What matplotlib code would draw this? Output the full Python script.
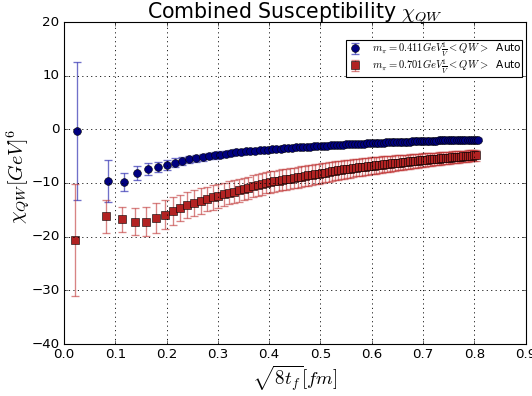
import matplotlib
matplotlib.use("Agg")
import matplotlib.pyplot as plt
from matplotlib.transforms import ScaledTranslation

# flow time axis sqrt(8 t_f) in fm
x_vals = [0.0257, 0.0851, 0.1176, 0.1428, 0.1643, 0.1832, 0.2003, 0.2161, 0.2309, 0.2447,
          0.2578, 0.2703, 0.2822, 0.2936, 0.3046, 0.3152, 0.3255, 0.3354, 0.3451, 0.3545,
          0.3637, 0.3726, 0.3813, 0.3899, 0.3982, 0.4064, 0.4144, 0.4223, 0.4300, 0.4376,
          0.4450, 0.4524, 0.4596, 0.4667, 0.4737, 0.4806, 0.4874, 0.4941, 0.5007, 0.5072,
          0.5137, 0.5200, 0.5263, 0.5325, 0.5387, 0.5448, 0.5508, 0.5567, 0.5626, 0.5684,
          0.5742, 0.5799, 0.5855, 0.5911, 0.5966, 0.6021, 0.6076, 0.6130, 0.6183, 0.6236,
          0.6289, 0.6341, 0.6392, 0.6444, 0.6494, 0.6545, 0.6595, 0.6645, 0.6694, 0.6743,
          0.6792, 0.6840, 0.6888, 0.6935, 0.6983, 0.7030, 0.7076, 0.7123, 0.7169, 0.7214,
          0.7260, 0.7305, 0.7350, 0.7395, 0.7439, 0.7483, 0.7527, 0.7570, 0.7614, 0.7657,
          0.7700, 0.7742, 0.7785, 0.7827, 0.7869, 0.7911, 0.7952, 0.7993, 0.8034, 0.8075]

# m_pi = 0.411 GeV
chi_411 = [-0.3, -9.6, -9.8, -8.1, -7.4, -7.0, -6.6, -6.2, -5.85, -5.6,
           -5.4, -5.2, -5.0, -4.85, -4.7, -4.55, -4.42, -4.3, -4.2, -4.12,
           -4.05, -3.98, -3.9, -3.83, -3.76, -3.7, -3.64, -3.58, -3.53, -3.48,
           -3.43, -3.38, -3.34, -3.29, -3.25, -3.21, -3.17, -3.13, -3.09, -3.06,
           -3.02, -2.99, -2.95, -2.92, -2.88, -2.85, -2.82, -2.79, -2.76, -2.73,
           -2.70, -2.67, -2.64, -2.61, -2.58, -2.55, -2.53, -2.50, -2.48, -2.46,
           -2.44, -2.42, -2.40, -2.38, -2.36, -2.34, -2.32, -2.30, -2.29, -2.27,
           -2.25, -2.23, -2.22, -2.20, -2.18, -2.17, -2.15, -2.14, -2.12, -2.11,
           -2.10, -2.08, -2.07, -2.06, -2.05, -2.04, -2.03, -2.02, -2.01, -2.00,
           -1.99, -1.98, -1.98, -1.97, -1.96, -1.95, -1.95, -1.94, -1.93, -1.92]
err_411 = [12.9, 3.9, 1.7, 1.3, 1.1, 1.0, 0.9, 0.8, 0.75, 0.7,
           0.68, 0.65, 0.62, 0.6, 0.58, 0.57, 0.56, 0.55, 0.54, 0.53,
           0.52, 0.51, 0.5, 0.5, 0.49, 0.48, 0.48, 0.47, 0.46, 0.46,
           0.45, 0.45, 0.44, 0.44, 0.43, 0.43, 0.42, 0.42, 0.41, 0.41,
           0.4, 0.4, 0.4, 0.39, 0.39, 0.39, 0.38, 0.38, 0.38, 0.37,
           0.37, 0.37, 0.36, 0.36, 0.36, 0.35, 0.35, 0.35, 0.34, 0.34,
           0.34, 0.33, 0.33, 0.33, 0.33, 0.32, 0.32, 0.32, 0.31, 0.31,
           0.31, 0.31, 0.3, 0.3, 0.3, 0.3, 0.29, 0.29, 0.29, 0.29,
           0.28, 0.28, 0.28, 0.28, 0.28, 0.27, 0.27, 0.27, 0.27, 0.27,
           0.26, 0.26, 0.26, 0.26, 0.26, 0.25, 0.25, 0.25, 0.25, 0.25]

# m_pi = 0.701 GeV
chi_701 = [-20.6, -16.2, -16.8, -17.2, -17.2, -16.6, -15.9, -15.2, -14.6, -14.1,
           -13.7, -13.3, -13.0, -12.7, -12.4, -12.1, -11.85, -11.6, -11.35, -11.1,
           -10.85, -10.6, -10.4, -10.15, -9.95, -9.82, -9.69, -9.56, -9.43, -9.3,
           -9.18, -9.06, -8.94, -8.82, -8.71, -8.6, -8.49, -8.38, -8.27, -8.16,
           -8.05, -7.95, -7.85, -7.76, -7.66, -7.57, -7.48, -7.39, -7.31, -7.23,
           -7.15, -7.08, -7.00, -6.93, -6.86, -6.80, -6.74, -6.68, -6.62, -6.56,
           -6.50, -6.45, -6.39, -6.34, -6.29, -6.24, -6.19, -6.14, -6.09, -6.04,
           -5.99, -5.94, -5.89, -5.84, -5.80, -5.75, -5.71, -5.66, -5.62, -5.58,
           -5.54, -5.50, -5.46, -5.42, -5.38, -5.34, -5.30, -5.26, -5.22, -5.18,
           -5.15, -5.11, -5.07, -5.04, -5.00, -4.97, -4.93, -4.90, -4.87, -4.84]
err_701 = [10.4, 3.1, 2.3, 2.55, 2.7, 2.8, 2.7, 2.6, 2.45, 2.4,
           2.4, 2.4, 2.3, 2.25, 2.2, 2.18, 2.15, 2.12, 2.1, 2.08,
           2.06, 2.04, 2.02, 2.0, 1.99, 1.98, 1.97, 1.96, 1.95, 1.94,
           1.93, 1.92, 1.91, 1.9, 1.89, 1.88, 1.87, 1.86, 1.85, 1.84,
           1.83, 1.81, 1.79, 1.77, 1.75, 1.73, 1.71, 1.69, 1.67, 1.65,
           1.63, 1.62, 1.61, 1.6, 1.59, 1.58, 1.57, 1.56, 1.55, 1.54,
           1.52, 1.5, 1.48, 1.46, 1.44, 1.42, 1.4, 1.38, 1.36, 1.34,
           1.32, 1.3, 1.29, 1.28, 1.27, 1.26, 1.25, 1.24, 1.22, 1.2,
           1.19, 1.18, 1.17, 1.16, 1.15, 1.14, 1.13, 1.12, 1.11, 1.1,
           1.09, 1.08, 1.07, 1.06, 1.05, 1.04, 1.03, 1.02, 1.01, 1.0]

label_411 = r"$m_\pi=0.411GeV\frac{1}{V}<QW>$  Auto"
label_701 = r"$m_\pi=0.701GeV\frac{1}{V}<QW>$  Auto"

x_ticks = [0.0, 0.1, 0.2, 0.3, 0.4, 0.5, 0.6, 0.7, 0.8, 0.9]
y_ticks = [-40, -30, -20, -10, 0, 10, 20]


def main():
    plt.style.use("classic")
    plt.rcParams["mathtext.fontset"] = "cm"
    plt.rcParams["font.family"] = ["DejaVu Sans"]

    fig = plt.figure(figsize=(6.65, 4.95), dpi=80, facecolor="white")
    ax = fig.add_axes([64 / 532, 52 / 396, 461.5 / 532, 322 / 396])

    ax.errorbar(x_vals, chi_411, yerr=err_411, fmt="o", color="#000080",
                mfc="#000080", mec="black", ms=7, ecolor=(0.2, 0.2, 0.7, 0.7),
                elinewidth=1.2, capsize=4, capthick=1.2, label=label_411)

    # red series sits a hair to the left in the original
    shift = ax.transData + ScaledTranslation(-2 / 80, 0, fig.dpi_scale_trans)
    ax.errorbar(x_vals, chi_701, yerr=err_701, fmt="s", color="#b22222",
                mfc="#b22222", mec="black", ms=7, ecolor=(0.75, 0.2, 0.2, 0.6),
                elinewidth=1.2, capsize=4, capthick=1.2, label=label_701,
                transform=shift)

    ax.set_xlim(0.0, 0.9)
    ax.set_ylim(-40, 20)
    ax.set_xticks(x_ticks)
    ax.set_yticks(y_ticks)
    ax.grid(True, color="black", linestyle=":", linewidth=0.8)

    ax.set_title(r"Combined Susceptibility $\chi_{QW}$", fontsize=18.5, pad=3)
    ax.set_xlabel(r"$\sqrt{8t_f}[fm]$", fontsize=17, labelpad=2)
    ax.set_ylabel(r"$\chi_{QW}[GeV]^6$", fontsize=18)
    ax.yaxis.set_label_coords(-0.068, 0.52)

    ax.legend(loc="upper right", bbox_to_anchor=(0.993, 0.945), borderaxespad=0,
              numpoints=1, prop={"size": 9.5}, fancybox=False,
              labelspacing=-0.15, handlelength=1.5, handletextpad=0.8,
              borderpad=0.1)

    fig.savefig("out.png", dpi=80, facecolor="white")


if __name__ == "__main__":
    main()
